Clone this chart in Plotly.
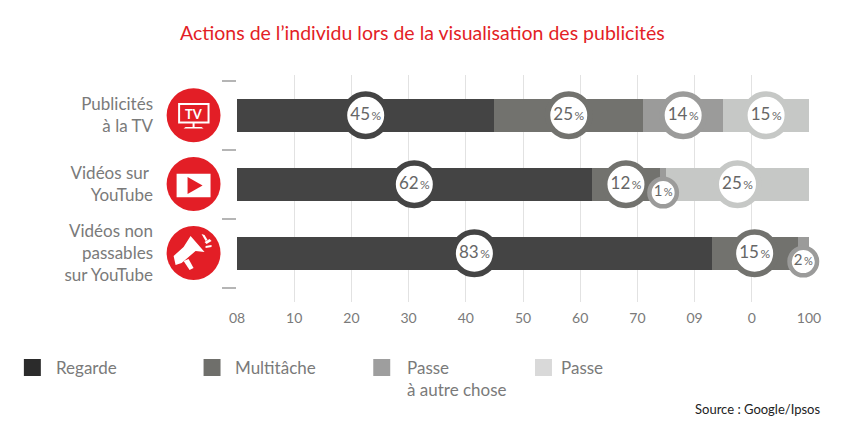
import plotly.graph_objects as go

# Data (bar widths differ slightly from the printed labels)
categories = ["Publicités<br>à la TV", "Vidéos sur <br>YouTube", "Vidéos non<br>passables<br>sur YouTube"]
series_names = ["Regarde", "Multitâche", "Passe à autre chose", "Passe"]
regarde = [45, 62, 83]
multitache = [26, 12, 15]
autre_chose = [14, 1, 2]
passe = [15, 25, 0]
regarde_labels = [45, 62, 83]
multitache_labels = [25, 12, 15]
autre_chose_labels = [14, 1, 2]
passe_labels = [15, 25, None]
x_ticks = [0, 10, 20, 30, 40, 50, 60, 70, 80, 90, 100]
# the printed axis really reads like this
x_tick_labels = ["08", "10", "20", "30", "40", "50", "60", "70", "09", "0", "100"]

bar_colors = ["#444444", "#72726e", "#9b9b9a", "#c6c8c6"]
legend_colors = ["#2b2b2b", "#6f6f6b", "#9e9e9e", "#d9d9d9"]
grey_text = "#7a7a7a"
red = "#e31e26"
FONT = "Lato"

W, H = 845, 435
LEFT, RIGHT, TOP, BOTTOM = 236.5, 809.5, 75, 302


# Helpers for the decorations, which are placed in page pixels
def px(x):
    return (x - LEFT) / (RIGHT - LEFT)


def py(y):
    return (BOTTOM - y) / (BOTTOM - TOP)


def path(points):
    return "M " + " L ".join(f"{px(x):.5f} {py(y):.5f}" for x, y in points) + " Z"


def poly(points, color):
    return dict(type="path", xref="paper", yref="paper", path=path(points),
                fillcolor=color, line=dict(width=0), layer="above")


def rect(x0, y0, x1, y1, color, kind="rect"):
    return dict(type=kind, xref="paper", yref="paper", x0=px(x0), x1=px(x1), y0=py(y0), y1=py(y1),
                fillcolor=color, line=dict(width=0), layer="above")


fig = go.Figure()

series = [regarde, multitache, autre_chose, passe]
labels = [regarde_labels, multitache_labels, autre_chose_labels, passe_labels]
y_pos = list(range(len(categories)))

for name, values, color in zip(series_names, series, bar_colors):
    fig.add_trace(go.Bar(x=values, y=y_pos, name=name, orientation="h", width=0.485,
                         marker=dict(color=color, line=dict(width=0)), showlegend=False))

# Ring labels sit at the middle of each segment, the small ones drop lower
for i, (values, texts, color) in enumerate(zip(series, labels, bar_colors)):
    for j in y_pos:
        if texts[j] is None:
            continue
        start = sum(series[k][j] for k in range(i))
        small = texts[j] < 5
        fig.add_trace(go.Scatter(
            x=[start + values[j] / 2],
            y=[j + 0.12 if small else j],
            mode="markers+text",
            marker=dict(size=27.5 if small else 42.5, color="white",
                        line=dict(color=color, width=4.5 if small else 5.5)),
            text=[f"{texts[j]}<span style='font-size:{11 if small else 12}px'>\u2009%</span>"],
            textposition="middle center",
            textfont=dict(family=FONT, size=15 if small else 17, color="#666666"),
            cliponaxis=False,
            showlegend=False,
            hoverinfo="skip",
        ))

shapes = []

# TV icon
shapes.append(rect(166, 88.3, 220, 142.3, red, "circle"))
shapes.append(rect(177.5, 103, 209, 123.5, "white"))
shapes.append(rect(179.5, 105, 207, 121.5, red))
shapes.append(poly([(185, 127), (201, 127), (203, 128.5), (183, 128.5)], "white"))
shapes.append(rect(192, 123, 194, 127, "white"))

# Play icon
shapes.append(rect(166, 157, 220, 211, red, "circle"))
shapes.append(rect(176, 173.7, 210, 197.3, "white"))
shapes.append(poly([(187, 177), (202, 185.5), (187, 194)], red))

# Megaphone icon
shapes.append(rect(166, 226, 220, 280, red, "circle"))
shapes.append(poly([(190, 236), (204, 252), (195, 251), (181, 263), (175, 265), (173, 256), (183, 247)], "white"))
shapes.append(poly([(183, 261), (188, 259), (193, 268), (189, 270)], "white"))
shapes.append(poly([(201, 234), (204, 235), (207, 240), (205, 241)], "white"))
shapes.append(poly([(204, 242), (209, 239), (211, 241), (206, 244)], "white"))
shapes.append(poly([(205, 246), (211, 245), (211, 247), (205, 248)], "white"))

# Legend squares
legend_x = [23, 203, 373, 535]
for x, color in zip(legend_x, legend_colors):
    shapes.append(rect(x, 359, x + 17, 376, color))

annotations = []


def label(text, x, y, size, color=grey_text, anchor="left", align="left", weight="normal"):
    annotations.append(dict(text=text, x=px(x), y=py(y), xref="paper", yref="paper", showarrow=False,
                            xanchor=anchor, yanchor="middle", align=align,
                            font=dict(family=FONT, size=size, color=color, weight=weight)))


label("TV", 193, 113.5, 13, "white", "center", "center", "bold")
label("Regarde", 53, 367, 17)
label("Multitâche", 232, 367, 17)
label("Passe<br>à autre chose", 405, 378, 17)
label("Passe", 559, 367, 17)
label("Source : Google/Ipsos", 823, 409, 13, "#222222", "right", "right")
label("Actions de l’individu lors de la visualisation des publicités", 422, 32, 19.5, red, "center", "center")

fig.update_layout(
    barmode="stack",
    width=W,
    height=H,
    margin=dict(l=LEFT, r=W - RIGHT, t=TOP, b=H - BOTTOM, pad=0),
    paper_bgcolor="white",
    plot_bgcolor="white",
    bargap=0,
    shapes=shapes,
    annotations=annotations,
)
fig.update_xaxes(
    range=[0, 100],
    tickmode="array",
    tickvals=x_ticks,
    ticktext=x_tick_labels,
    showgrid=True,
    gridcolor="#e2e2e2",
    gridwidth=1.2,
    layer="below traces",
    zeroline=False,
    ticks="",
    tickfont=dict(family=FONT, size=14, color=grey_text),
    ticklabelstandoff=6,
)
fig.update_yaxes(
    range=[2.706, -0.584],
    tickmode="array",
    tickvals=y_pos,
    ticktext=categories,
    showgrid=False,
    zeroline=False,
    ticks="",
    tickfont=dict(family=FONT, size=17, color=grey_text),
    ticklabelstandoff=83,
    minor=dict(tickmode="array", tickvals=[-0.5, 0.5, 1.5, 2.5], ticks="outside",
               ticklen=14, tickwidth=1.5, tickcolor="#b5b5b5", showgrid=False),
)

# Drop the browser's default page margin so pixels line up with the window
fig.write_html("out.html", config={"displayModeBar": False}, post_script="document.body.style.margin = '0';")
